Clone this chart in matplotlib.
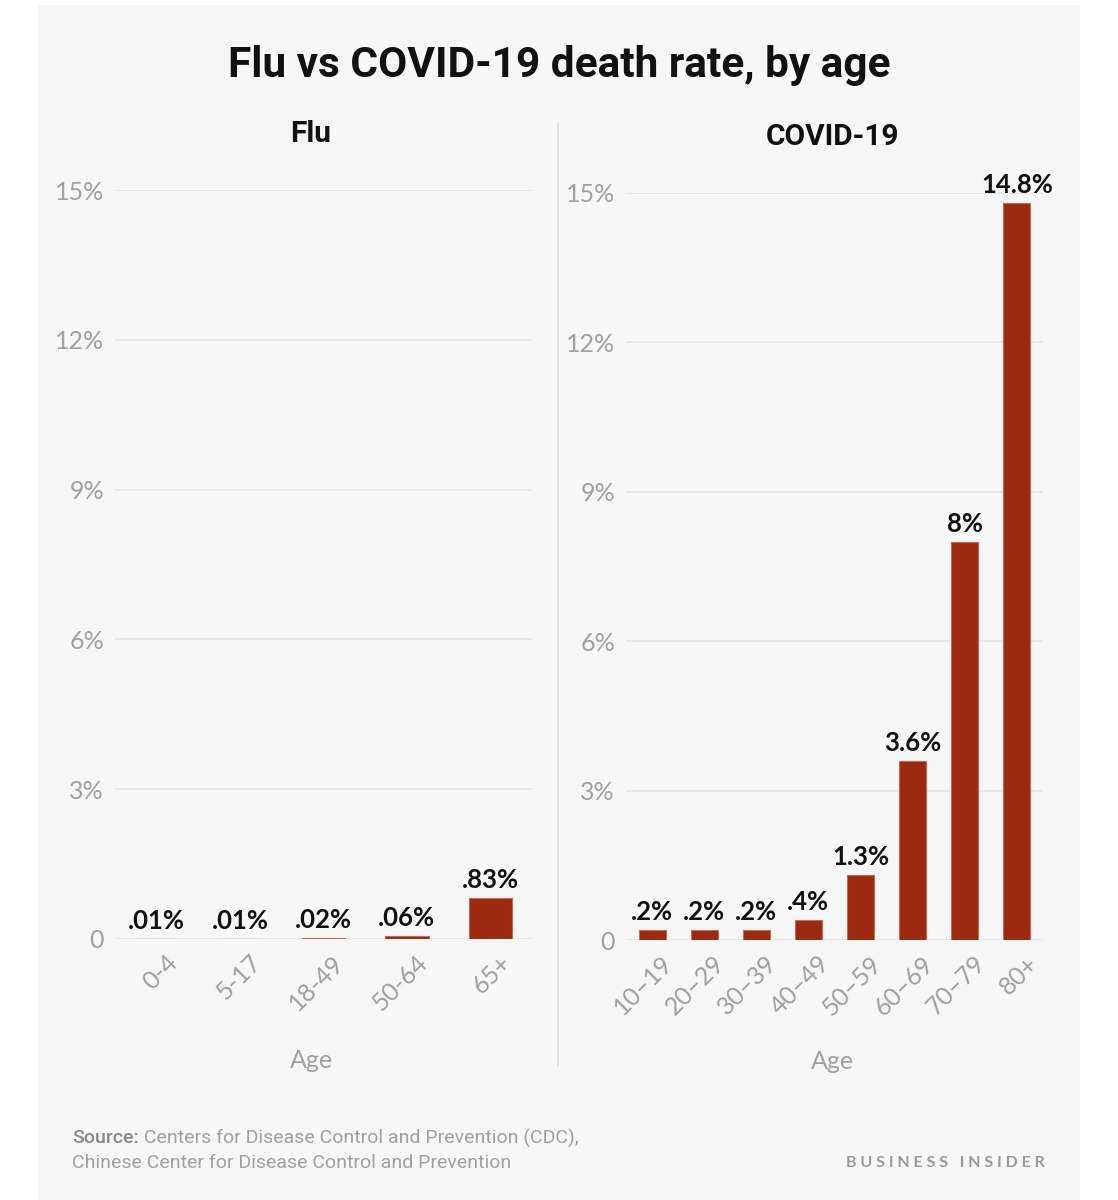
import matplotlib
matplotlib.use("Agg")
import matplotlib.pyplot as plt
from matplotlib.patches import Rectangle
from matplotlib.lines import Line2D
import matplotlib.transforms as mtrans

# data
flu_ages = ["0-4", "5-17", "18-49", "50-64", "65+"]
flu_rates = [0.01, 0.01, 0.02, 0.06, 0.83]
flu_labels = [".01%", ".01%", ".02%", ".06%", ".83%"]

covid_ages = ["10\u201319", "20\u201329", "30\u201339", "40\u201349",
              "50\u201359", "60\u201369", "70\u201379", "80+"]
covid_rates = [0.2, 0.2, 0.2, 0.4, 1.3, 3.6, 8.0, 14.8]
covid_labels = [".2%", ".2%", ".2%", ".4%", "1.3%", "3.6%", "8%", "14.8%"]

y_ticks = [0, 3, 6, 9, 12, 15]
y_ticklabels = ["0", "3%", "6%", "9%", "12%", "15%"]

bar_color = "#9a2a10"
grid_color = "#e4e4e4"
tick_color = "#a0a0a0"
bg = "#f7f7f7"

plt.rcParams["font.family"] = ["Lato", "DejaVu Sans"]

fig = plt.figure(figsize=(11.18, 12), dpi=100)
fig.patch.set_facecolor("white")
fig.patches.append(Rectangle((38 / 1118, 0), (1080 - 38) / 1118, 1 - 5 / 1200,
                             transform=fig.transFigure, facecolor=bg,
                             edgecolor="none", zorder=-10))

fig.text(0.5, 0.945, "Flu vs COVID-19 death rate, by age", ha="center", va="center",
         fontsize=30.5, fontweight="bold", color="#111111", family=["Roboto", "DejaVu Sans"])

# divider
fig.add_artist(Line2D([558 / 1118, 558 / 1118], [1 - 123 / 1200, 1 - 1065 / 1200],
                      transform=fig.transFigure, color="#dedede", lw=1.2))

ax1 = fig.add_axes([115 / 1118, 1 - 939 / 1200, 417 / 1118, 749 / 1200])
ax2 = fig.add_axes([626 / 1118, 1 - 940 / 1200, 417 / 1118, 747 / 1200])


def draw(ax, ages, rates, labels, title, title_x):
    ax.set_facecolor("none")
    x = range(len(ages))
    ax.bar(x, rates, width=0.52, color=bar_color, edgecolor="#c46a55", linewidth=0.8,
           zorder=3)
    for xi, r, lab in zip(x, rates, labels):
        ax.text(xi, r + 0.12, lab, ha="center", va="bottom", fontsize=18.5,
                fontweight="bold", color="#111111", zorder=4)
    ax.set_xlim(-0.5, len(ages) - 0.5)
    ax.set_ylim(0, 15)
    ax.set_yticks(y_ticks)
    ax.set_yticklabels(y_ticklabels)
    ax.grid(axis="y", color=grid_color, lw=1.2, zorder=0)
    for s in ax.spines.values():
        s.set_visible(False)
    ax.tick_params(axis="both", length=0, colors=tick_color, labelsize=18)
    ax.tick_params(axis="y", pad=8)
    ax.set_xticks(list(x))
    ax.set_xticklabels(ages, rotation=45, ha="right", va="center",
                       rotation_mode="anchor")
    off = mtrans.ScaledTranslation(0.17, -0.15, fig.dpi_scale_trans)
    for lab in ax.get_xticklabels():
        lab.set_transform(lab.get_transform() + off)
    ax.text(title_x, 1.075, title, transform=ax.transAxes, ha="center", va="center",
            fontsize=21.5, fontweight="bold", color="#111111",
            family=["Roboto", "DejaVu Sans"])
    ax.text(title_x, -0.162, "Age", transform=ax.transAxes, ha="center", va="center",
            fontsize=18, color=tick_color)


draw(ax1, flu_ages, flu_rates, flu_labels, "Flu", 0.47)
draw(ax2, covid_ages, covid_rates, covid_labels, "COVID-19", 0.495)

src_font = ["Roboto", "DejaVu Sans"]
src = fig.text(72 / 1118, 1 - 1138 / 1200, "Source:", ha="left", va="center",
               fontsize=14, color="#888888", fontweight="medium", family=src_font)
ax1.annotate(" Centers for Disease Control and Prevention (CDC),", xy=(1, 0.5),
             xycoords=src, ha="left", va="center", fontsize=14, color="#a0a0a0",
             family=src_font, annotation_clip=False)
fig.text(72 / 1118, 1 - 1163 / 1200, "Chinese Center for Disease Control and Prevention",
         ha="left", va="center", fontsize=14, color="#a0a0a0", family=src_font)
fig.text(1045 / 1118, 1 - 1163 / 1200, "B U S I N E S S   I N S I D E R", ha="right",
         va="center", fontsize=11.5, color="#9a9a9a", fontweight="bold")

fig.savefig("out.png", dpi=100, facecolor=fig.get_facecolor())
